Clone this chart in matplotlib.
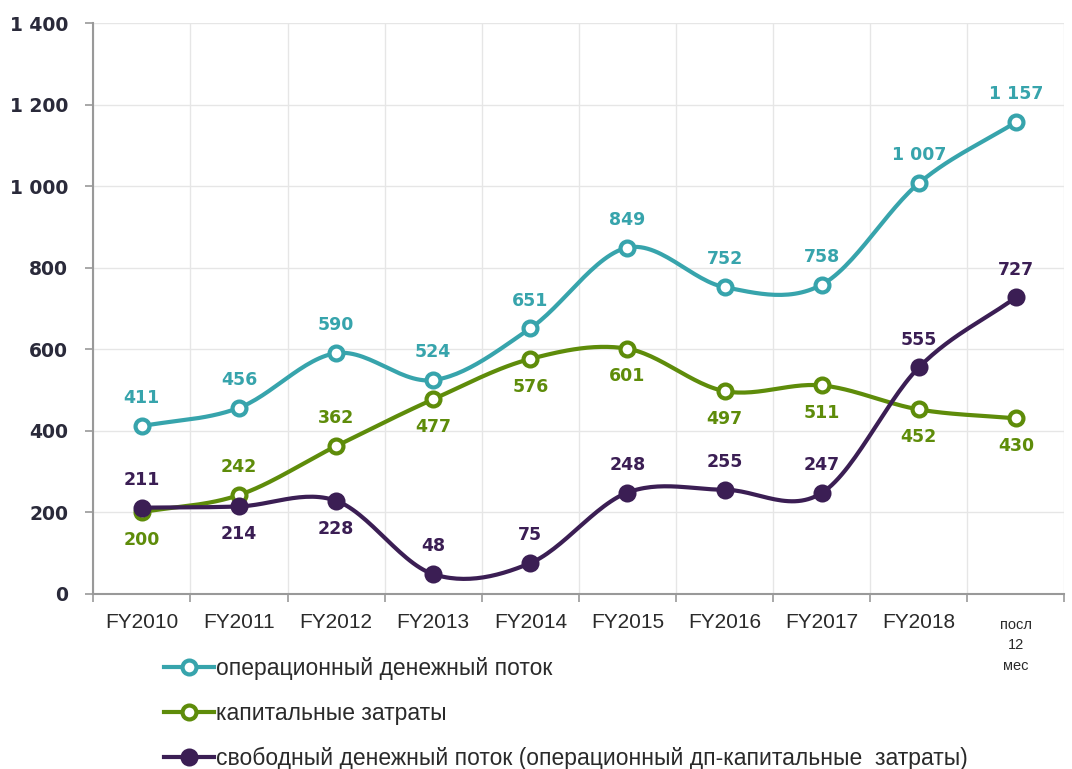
import numpy as np
import matplotlib.pyplot as plt
from matplotlib.lines import Line2D

categories = ["FY2010", "FY2011", "FY2012", "FY2013", "FY2014", "FY2015",
              "FY2016", "FY2017", "FY2018", "посл\n12\nмес"]
operating_cf = [411, 456, 590, 524, 651, 849, 752, 758, 1007, 1157]
capex = [200, 242, 362, 477, 576, 601, 497, 511, 452, 430]
free_cf = [211, 214, 228, 48, 75, 248, 255, 247, 555, 727]

# label positions: +1 above the point, -1 below
capex_pos = [-1, 1, 1, -1, -1, -1, -1, -1, -1, -1]
free_pos = [1, -1, -1, 1, 1, 1, 1, 1, 1, 1]

legend_labels = ["операционный денежный поток",
                 "капитальные затраты",
                 "свободный денежный поток (операционный дп-капитальные  затраты)"]

C_OP = "#37a4ac"
C_CAP = "#5e8c0a"
C_FREE = "#3b1e54"


def smooth(x, y, n=30):
    # catmull-rom curve through the points, like excel smoothed lines
    x = np.asarray(x, float)
    y = np.asarray(y, float)
    px = np.concatenate([[2 * x[0] - x[1]], x, [2 * x[-1] - x[-2]]])
    py = np.concatenate([[2 * y[0] - y[1]], y, [2 * y[-1] - y[-2]]])
    xs, ys = [], []
    t = np.linspace(0, 1, n)
    for i in range(1, len(px) - 2):
        for p, out in ((px, xs), (py, ys)):
            p0, p1, p2, p3 = p[i - 1], p[i], p[i + 1], p[i + 2]
            out.extend(0.5 * ((2 * p1) + (-p0 + p2) * t
                              + (2 * p0 - 5 * p1 + 4 * p2 - p3) * t ** 2
                              + (-p0 + 3 * p1 - 3 * p2 + p3) * t ** 3))
    return np.array(xs), np.array(ys)


def fmt(v):
    return "{:,}".format(int(v)).replace(",", " ")


fig = plt.figure(figsize=(10.72, 7.69), dpi=100)
ax = fig.add_axes([0.087, 0.228, 0.906, 0.742])

x = np.arange(len(categories))
series = [(operating_cf, C_OP, "white", [1] * len(x)),
          (capex, C_CAP, "white", capex_pos),
          (free_cf, C_FREE, C_FREE, free_pos)]

for vals, col, face, pos in series:
    sx, sy = smooth(x, vals)
    ax.plot(sx, sy, color=col, lw=3, zorder=3, solid_capstyle="round")
    ax.plot(x, vals, ls="none", marker="o", ms=10, mfc=face, mec=col, mew=3, zorder=4)
    for xi, v, p in zip(x, vals, pos):
        ax.annotate(fmt(v), (xi, v), xytext=(0, 20 * p), textcoords="offset points",
                    ha="center", va="center", color=col, fontsize=12.5, fontweight="bold",
                    family="DejaVu Sans", zorder=5)

ax.set_xlim(-0.5, len(x) - 0.5)
ax.set_ylim(0, 1400)
ax.set_yticks(np.arange(0, 1401, 200))
ax.set_yticklabels([fmt(v) for v in np.arange(0, 1401, 200)], fontsize=13.5,
                   color="#2a2a3a", fontweight="semibold")
ax.set_xticks(x)
ax.set_xticklabels(categories, fontsize=15, color="#2a2a2a", family="Liberation Sans")
ax.set_xticks(np.arange(-0.5, len(x), 1), minor=True)
ax.tick_params(axis="x", which="major", length=0, pad=14)
ax.tick_params(axis="x", which="minor", length=6, color="#999999", width=1.2)
ax.tick_params(axis="y", length=6, color="#999999", width=1.2, pad=12)
for lab in ax.get_xticklabels()[-1:]:
    lab.set_fontsize(10.5)
    lab.set_linespacing(1.6)
    lab.set_y(-0.008)

ax.grid(True, which="minor", axis="x", color="#e6e6e6", lw=1)
ax.grid(True, which="major", axis="y", color="#e6e6e6", lw=1)
ax.set_axisbelow(True)
for s in ["top", "right"]:
    ax.spines[s].set_visible(False)
for s in ["left", "bottom"]:
    ax.spines[s].set_color("#999999")
    ax.spines[s].set_linewidth(1.5)

handles = [Line2D([], [], color=C_OP, lw=3, marker="o", ms=10, mfc="white", mec=C_OP, mew=3),
           Line2D([], [], color=C_CAP, lw=3, marker="o", ms=10, mfc="white", mec=C_CAP, mew=3),
           Line2D([], [], color=C_FREE, lw=3, marker="o", ms=10, mfc=C_FREE, mec=C_FREE, mew=3)]
fig.legend(handles, legend_labels, loc="upper left", bbox_to_anchor=(0.153, 0.145),
           frameon=False, handlelength=2.2, handletextpad=0.05, labelspacing=0.95,
           prop={"family": "Liberation Sans", "size": 16.5}, labelcolor="#2a2a2a",
           borderaxespad=0, borderpad=0)

fig.savefig("out.png", dpi=100)
